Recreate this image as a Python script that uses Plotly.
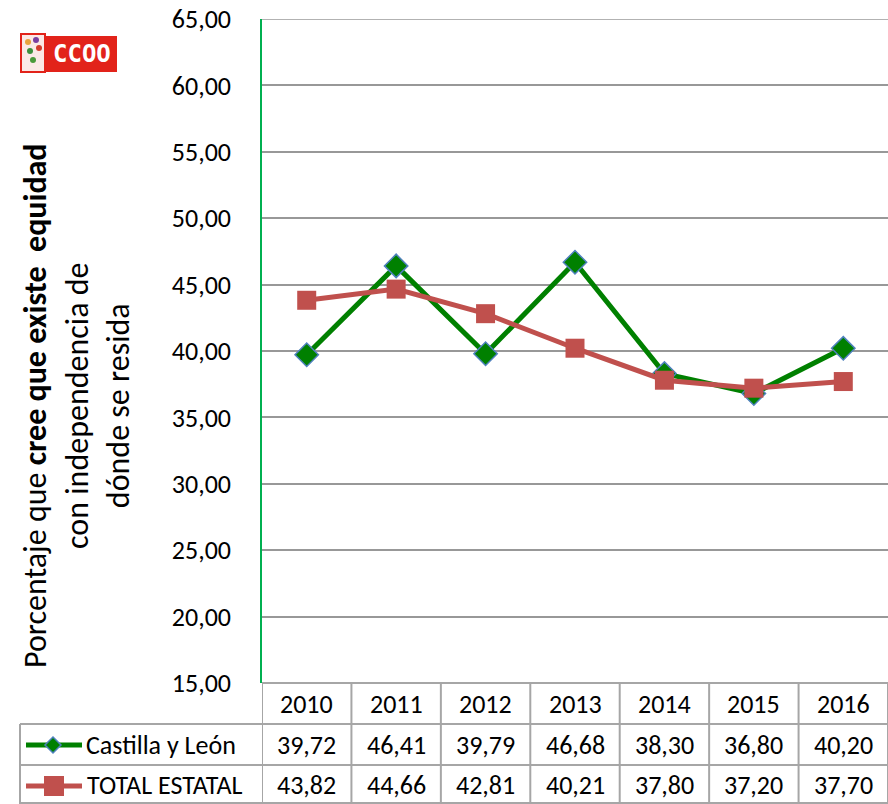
import plotly.graph_objects as go

years = ["2010", "2011", "2012", "2013", "2014", "2015", "2016"]
castilla = [39.72, 46.41, 39.79, 46.68, 38.30, 36.80, 40.20]
total = [43.82, 44.66, 42.81, 40.21, 37.80, 37.20, 37.70]
series_names = ["Castilla y León", "TOTAL ESTATAL"]
y_ticks = [15, 20, 25, 30, 35, 40, 45, 50, 55, 60, 65]

W, H = 888, 804
FONT = "Calibri, Carlito, 'Liberation Sans', Arial, sans-serif"
GREEN = "#008000"
RED = "#c0504d"
GRID = "#989898"
TABLE = "#a6a6a6"

def py(px):
    return 1 - px / H

def pxx(px):
    return px / W

fig = go.Figure()
idx = list(range(len(years)))

fig.add_trace(go.Scatter(
    x=idx, y=castilla, mode="lines+markers", name=series_names[0],
    line=dict(color=GREEN, width=5),
    marker=dict(symbol="diamond", size=18, color=GREEN,
                line=dict(color="#4f81bd", width=1.5)),
    showlegend=False))
fig.add_trace(go.Scatter(
    x=idx, y=total, mode="lines+markers", name=series_names[1],
    line=dict(color=RED, width=5),
    marker=dict(symbol="square", size=19, color=RED,
                line=dict(color=RED, width=0)),
    showlegend=False))

shapes = []
# top gridline
shapes.append(dict(type="line", xref="paper", yref="y",
                   x0=pxx(262), x1=1, y0=65, y1=65,
                   line=dict(color=GRID, width=1.5)))
# table horizontal lines
shapes.append(dict(type="line", xref="paper", yref="paper",
                   x0=pxx(262), x1=1, y0=py(683), y1=py(683),
                   line=dict(color=TABLE, width=2)))
for yy in [724, 765, 803]:
    shapes.append(dict(type="line", xref="paper", yref="paper",
                       x0=pxx(20), x1=1, y0=py(yy), y1=py(yy),
                       line=dict(color=TABLE, width=2)))
# left border
shapes.append(dict(type="line", xref="paper", yref="paper",
                   x0=pxx(20), x1=pxx(20), y0=py(724), y1=py(804),
                   line=dict(color=TABLE, width=2)))
# column borders
for i in range(len(years) + 1):
    shapes.append(dict(type="line", xref="x", yref="paper",
                       x0=i - 0.5, x1=i - 0.5, y0=py(683), y1=0,
                       line=dict(color=TABLE, width=2)))

# legend keys in the table
shapes.append(dict(type="line", xref="paper", yref="paper",
                   x0=pxx(26), x1=pxx(82), y0=py(745), y1=py(745),
                   line=dict(color=GREEN, width=5)))
dcx, dcy, dr = 53, 745, 8
shapes.append(dict(type="path", xref="paper", yref="paper",
                   path=(f"M {pxx(dcx)} {py(dcy - dr)} L {pxx(dcx + dr)} {py(dcy)} "
                         f"L {pxx(dcx)} {py(dcy + dr)} L {pxx(dcx - dr)} {py(dcy)} Z"),
                   fillcolor=GREEN, line=dict(color="#4f81bd", width=1.5)))
shapes.append(dict(type="line", xref="paper", yref="paper",
                   x0=pxx(26), x1=pxx(82), y0=py(786), y1=py(786),
                   line=dict(color=RED, width=5)))
shapes.append(dict(type="rect", xref="paper", yref="paper",
                   x0=pxx(44), x1=pxx(64), y0=py(796), y1=py(776),
                   fillcolor=RED, line=dict(width=0)))

# logo
shapes.append(dict(type="rect", xref="paper", yref="paper",
                   x0=pxx(46), x1=pxx(117), y0=py(72), y1=py(36),
                   fillcolor="#e2231a", line=dict(width=0), layer="above"))
shapes.append(dict(type="rect", xref="paper", yref="paper",
                   x0=pxx(21), x1=pxx(45), y0=py(72), y1=py(34),
                   fillcolor="#fbe9e6", line=dict(color="#e2231a", width=2), layer="above"))
for (cx, cy, c) in [(28, 42, "#e8a33d"), (36, 40, "#7b3fa0"), (30, 51, "#3c8f3c"),
                    (39, 48, "#d23c2c"), (33, 60, "#4a9a3a")]:
    shapes.append(dict(type="circle", xref="paper", yref="paper",
                       x0=pxx(cx - 3), x1=pxx(cx + 3), y0=py(cy + 3), y1=py(cy - 3),
                       fillcolor=c, line=dict(width=0), layer="above"))

annotations = []
annotations.append(dict(xref="paper", yref="paper", x=pxx(81.5), y=py(54),
                        text="<b>CCOO</b>", showarrow=False,
                        font=dict(family="'DejaVu Sans Mono', monospace", size=24, color="white"),
                        xanchor="center", yanchor="middle"))

def fmt(v):
    return f"{v:.2f}".replace(".", ",")

TF = dict(family=FONT, size=26, color="black")
for i, yr in enumerate(years):
    annotations.append(dict(xref="x", yref="paper", x=i, y=py(704), text=yr,
                            showarrow=False, font=TF, xanchor="center", yanchor="middle"))
    annotations.append(dict(xref="x", yref="paper", x=i, y=py(745), text=fmt(castilla[i]),
                            showarrow=False, font=TF, xanchor="center", yanchor="middle"))
    annotations.append(dict(xref="x", yref="paper", x=i, y=py(785), text=fmt(total[i]),
                            showarrow=False, font=TF, xanchor="center", yanchor="middle"))

annotations.append(dict(xref="paper", yref="paper", x=pxx(84), y=py(745), text=series_names[0],
                        showarrow=False, font=TF, xanchor="left", yanchor="middle"))
annotations.append(dict(xref="paper", yref="paper", x=pxx(85), y=py(785), text=series_names[1],
                        showarrow=False, font=TF, xanchor="left", yanchor="middle"))

annotations.append(dict(
    xref="paper", yref="paper", x=pxx(77), y=py(406),
    text="Porcentaje que <b>cree que existe  equidad</b><br>con independencia de<br>dónde se resida",
    textangle=-90, showarrow=False, align="center",
    font=dict(family=FONT, size=32, color="black"),
    xanchor="center", yanchor="middle"))

fig.update_layout(
    width=W, height=H,
    margin=dict(l=0, r=0, t=0, b=0, autoexpand=False),
    paper_bgcolor="white", plot_bgcolor="white",
    separators=",.",
    xaxis=dict(domain=[pxx(262), 1], range=[-0.5, 6.5], showgrid=False,
               showticklabels=False, zeroline=False, showline=False,
               fixedrange=True, automargin=False),
    yaxis=dict(domain=[py(683), py(19)], range=[15, 65], tickvals=y_ticks,
               tickformat=".2f", showgrid=True, gridcolor=GRID, gridwidth=1.5,
               zeroline=False, showline=True, linecolor="#00b050", linewidth=1.5,
               ticks="", ticklabelstandoff=24, automargin=False, fixedrange=True,
               tickfont=dict(family=FONT, size=26, color="black")),
    shapes=shapes, annotations=annotations,
)

fig.write_html("out.html", config={"displayModeBar": False},
               post_script="document.body.style.margin='0';document.body.style.overflow='hidden';")
